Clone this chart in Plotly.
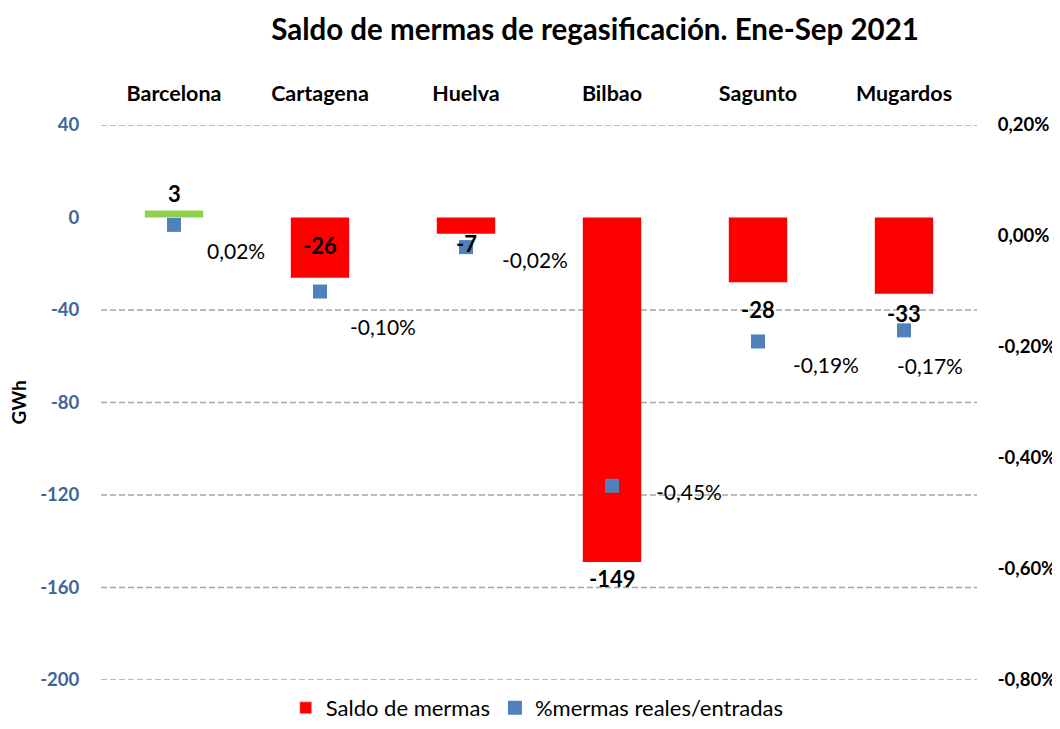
import plotly.graph_objects as go

# ---- data ----
plants = ["Barcelona", "Cartagena", "Huelva", "Bilbao", "Sagunto", "Mugardos"]
saldo_gwh = [3, -26, -7, -149, -28, -33]
pct_mermas = [0.02, -0.10, -0.02, -0.45, -0.19, -0.17]
left_ticks = [40, 0, -40, -80, -120, -160, -200]
right_ticks = [0.20, 0.0, -0.20, -0.40, -0.60, -0.80]

# ---- styling / label placement ----
FONT = "Lato"
bar_colors = ["#92D050" if v > 0 else "#FF0000" for v in saldo_gwh]
bar_label_yshift = [17, 32, -10, -16, -27, -20]     # px relative to bar end
pct_label_shift = [(62, -26), (63, -35), (69, -12), (77, -6), (68, -23), (26, -35)]

def fmt_pct(v):
    return f"{v:.2f}%".replace(".", ",")

fig = go.Figure()
fig.add_trace(go.Bar(
    x=plants, y=saldo_gwh, marker=dict(color=bar_colors, line=dict(width=0)),
    width=0.4, name="Saldo de mermas", yaxis="y", showlegend=False,
))
# legend proxy for red bars
fig.add_trace(go.Bar(x=[None], y=[None], marker_color="#FF0000", name="Saldo de mermas",
                     showlegend=True))
fig.add_trace(go.Scatter(
    x=plants, y=pct_mermas, mode="markers", yaxis="y2",
    marker=dict(symbol="square", size=14, color="#4F81BD"),
    name="%mermas reales/entradas",
))

annotations = []
for p, v, ys in zip(plants, saldo_gwh, bar_label_yshift):
    annotations.append(dict(x=p, y=v, xref="x", yref="y", text=f"<b>{v}</b>",
                            showarrow=False, yshift=ys,
                            font=dict(family=FONT, size=22, color="black")))
for p, v, (dx, dy) in zip(plants, pct_mermas, pct_label_shift):
    annotations.append(dict(x=p, y=v, xref="x", yref="y2", text=fmt_pct(v),
                            showarrow=False, xshift=dx, yshift=dy,
                            font=dict(family=FONT, size=21, color="black")))
annotations.append(dict(x=-0.0947, y=0.5, xref="paper", yref="paper", text="<b>GWh</b>",
                        textangle=-90, showarrow=False, xanchor="center", yanchor="middle",
                        font=dict(family=FONT, size=19, color="black")))
fig.update_layout(annotations=annotations)

shapes = []
for t in left_ticks:
    if t == 0:
        continue
    shapes.append(dict(type="line", xref="paper", yref="y", x0=0, x1=1, y0=t, y1=t,
                       line=dict(color="#A6A6A6", width=1.5, dash="6px,3px"), layer="below"))
fig.update_layout(shapes=shapes)

fig.update_layout(
    width=1052, height=721,
    margin=dict(l=93, r=83, t=117, b=49, autoexpand=False),
    plot_bgcolor="white", paper_bgcolor="white",
    title=dict(text="<b>Saldo de mermas de regasificación. Ene-Sep 2021</b>",
               x=0.564, xref="paper", xanchor="center", y=0.9695, yref="container",
               yanchor="middle",
               font=dict(family=FONT, size=29.5, color="black")),
    xaxis=dict(side="top", showgrid=False, showline=False, zeroline=False,
               ticks="outside", ticklen=14, tickcolor="rgba(0,0,0,0)",
               tickfont=dict(family=FONT, size=21.5, color="black", weight="bold"),
               range=[-0.5, 5.5]),
    yaxis=dict(range=[-200, 40], tickvals=left_ticks, ticktext=[str(t) for t in left_ticks],
               showgrid=False, zeroline=False,
               showline=False, ticks="outside", ticklen=17, tickcolor="rgba(0,0,0,0)",
               tickfont=dict(family=FONT, size=18.5, color="#3F6597", weight="bold")),
    yaxis2=dict(range=[-0.8, 0.2], overlaying="y", side="right", tickvals=right_ticks,
                ticktext=[fmt_pct(v) for v in right_ticks], showgrid=False,
                zeroline=False, showline=False, ticks="outside", ticklen=16,
                tickcolor="rgba(0,0,0,0)",
                tickfont=dict(family=FONT, size=18.5, color="black", weight="bold")),
    legend=dict(orientation="h", x=0.498, xanchor="center", y=-0.0883, yanchor="bottom",
                font=dict(family=FONT, size=22, color="black"), itemwidth=30,
                traceorder="normal"),
    bargap=0.6,
    barmode="overlay",
)

fig.write_html("out.html")
